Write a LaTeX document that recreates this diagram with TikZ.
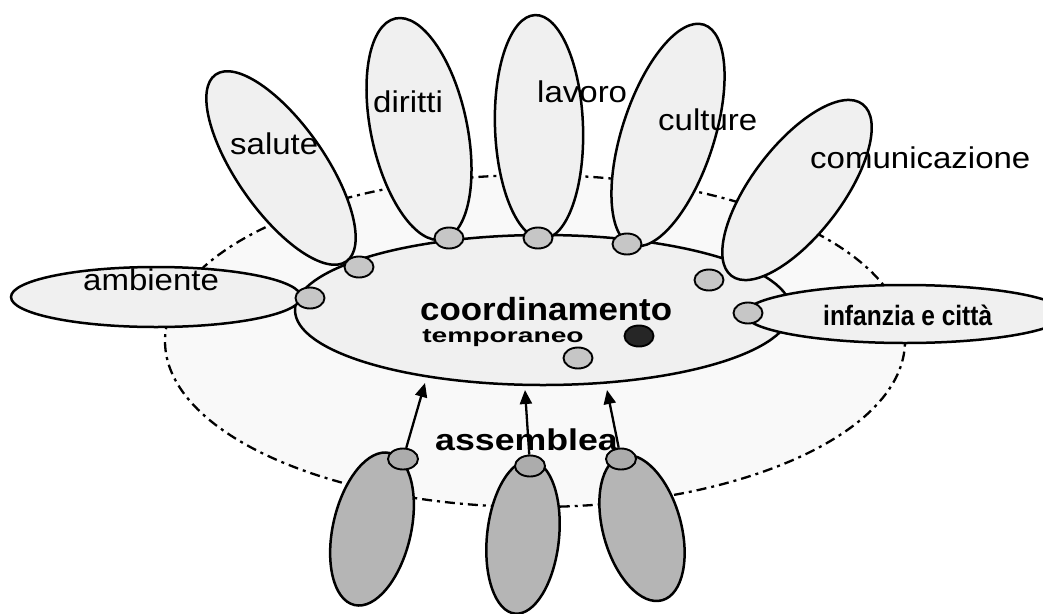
\documentclass[tikz,border=0pt]{standalone}
\usepackage{fontspec}
\setmainfont{Liberation Sans}
\usetikzlibrary{shapes.geometric,arrows.meta}
\begin{document}
\begin{tikzpicture}[x=1pt,y=-1pt,
  outerring/.style={ellipse, draw, line width=2.3pt, dash pattern=on 10pt off 5pt on 3pt off 5pt, fill=gray!5, inner sep=0pt},
  petal/.style={ellipse, draw, line width=2.5pt, fill=gray!12, inner sep=0pt},
  member/.style={ellipse, draw, line width=2.5pt, fill=gray!58, inner sep=0pt},
  blob/.style={ellipse, draw, line width=1.9pt, fill=gray!45, minimum width=29pt, minimum height=21pt, inner sep=0pt},
  mblob/.style={blob, fill=gray!65, minimum width=30pt, minimum height=21pt},
  darkblob/.style={blob, fill=black!85},
  lbl/.style={anchor=base west, inner sep=0pt, font=\fontsize{30}{36}\selectfont, xscale=1.1},
  blbl/.style={anchor=base west, inner sep=0pt},
  arr/.style={-{Triangle[length=14pt,width=12pt]}, line width=2.3pt}
]
\useasboundingbox (0,0) rectangle (1043,613);
% outer ring
\node[outerring, minimum width=740pt, minimum height=332pt] (outer) at (535,341) {};
% central ellipse
\node[petal, minimum width=496pt, minimum height=150pt] (coord) at (543,310) {};
% petals
\node[petal, minimum width=290pt, minimum height=60pt] (amb) at (156,297) {};
\node[petal, minimum width=228pt, minimum height=88pt, rotate=-55] (sal) at (281,168) {};
\node[petal, minimum width=226pt, minimum height=96pt, rotate=-78] (dir) at (419,129) {};
\node[petal, minimum width=224pt, minimum height=88pt, rotate=92] (lav) at (539,127) {};
\node[petal, minimum width=232pt, minimum height=92pt, rotate=72] (cul) at (668,135) {};
\node[petal, minimum width=216pt, minimum height=90pt, rotate=52.6] (com) at (797,190) {};
\node[petal, minimum width=320pt, minimum height=58pt] (inf) at (905,314) {};
% blobs
\node[blob] (b1) at (310,298) {};
\node[blob] (b2) at (359,267) {};
\node[blob] (b3) at (449,238) {};
\node[blob] (b4) at (538,238) {};
\node[blob] (b5) at (627,244) {};
\node[blob] (b6) at (709,280) {};
\node[blob] (b7) at (748,313) {};
\node[darkblob] (b8) at (639,336) {};
\node[blob] (b9) at (578,358) {};
% assembly members
\node[member, minimum width=156pt, minimum height=78pt, rotate=77] (m1) at (372,529) {};
\node[member, minimum width=154pt, minimum height=72pt, rotate=84] (m2) at (523,537) {};
\node[member, minimum width=150pt, minimum height=78pt, rotate=105.6] (m3) at (642,528) {};
\node[mblob] (mb1) at (403,459) {};
\node[mblob] (mb2) at (530,466) {};
\node[mblob] (mb3) at (621,459) {};
% arrows
\coordinate (t1) at (425,383);
\coordinate (t2) at (525,390);
\coordinate (t3) at (607,390);
\draw[arr] (mb1) -- (t1);
\draw[arr] (mb2) -- (t2);
\draw[arr] (mb3) -- (t3);
% labels
\node[lbl] (lamb) at (83,290) {ambiente};
\node[lbl] (lsal) at (230,154) {salute};
\node[lbl] (ldir) at (373,112) {diritti};
\node[lbl] (llav) at (537,102) {lavoro};
\node[lbl] (lcul) at (658,130) {culture};
\node[lbl] (lcom) at (810,168) {comunicazione};
\node[blbl, font=\bfseries\fontsize{32}{38}\selectfont, xscale=1.09, text depth=0pt] (lcoord) at (420,320) {coordinamento};
\node[blbl, font=\bfseries\fontsize{20}{24}\selectfont, xscale=1.41, text height=13pt] (ltemp) at (422,342) {temporaneo};
\node[blbl, font=\bfseries\fontsize{28}{34}\selectfont, xscale=0.876] (linf) at (823,325) {infanzia e città};
\node[blbl, font=\bfseries\fontsize{30}{36}\selectfont, xscale=1.19] (lass) at (435,450) {assemblea};
\end{tikzpicture}
\end{document}
